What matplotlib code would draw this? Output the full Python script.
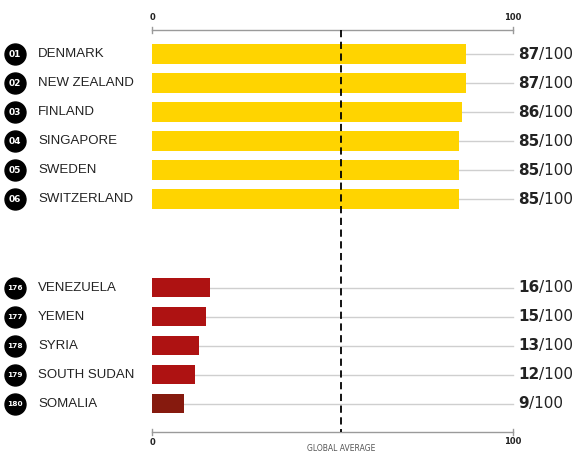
import matplotlib.pyplot as plt
from matplotlib.transforms import blended_transform_factory

top_names = ['DENMARK', 'NEW ZEALAND', 'FINLAND', 'SINGAPORE', 'SWEDEN', 'SWITZERLAND']
top_ranks = ['01', '02', '03', '04', '05', '06']
top_scores = [87, 87, 86, 85, 85, 85]

low_names = ['VENEZUELA', 'YEMEN', 'SYRIA', 'SOUTH SUDAN', 'SOMALIA']
low_ranks = ['176', '177', '178', '179', '180']
low_scores = [16, 15, 13, 12, 9]

global_avg = 52.4

YELLOW = '#FFD400'
RED = '#AE1212'
DARK_RED = '#861A0E'
NAME_FONT = ['Liberation Sans', 'DejaVu Sans']

fig = plt.figure(figsize=(5.77, 4.62), dpi=100)
ax = fig.add_axes([152 / 577, (462 - 432) / 462, 361 / 577, 402 / 462])
ax.set_xlim(0, 100)
ax.set_ylim(13.03, -0.83)
ax.axis('off')

names = top_names + low_names
ranks = top_ranks + low_ranks
scores = top_scores + low_scores
rows = list(range(len(top_names))) + [8.05 + i for i in range(len(low_names))]
colors = [YELLOW] * len(top_names) + [RED] * (len(low_names) - 1) + [DARK_RED]

# guide lines out to 100
for y, s in zip(rows, scores):
    ax.plot([s, 100], [y, y], color='#cfcfcf', lw=1, zorder=1, clip_on=False)

ax.barh(rows, scores, height=0.68, color=colors, zorder=2)

# axis lines top and bottom
for yl in (-0.83, 13.03):
    ax.plot([0, 100], [yl, yl], color='#9a9a9a', lw=1, clip_on=False, zorder=1)
    for xt in (0, 100):
        ax.plot([xt, xt], [yl - 0.1, yl + 0.1], color='#9a9a9a', lw=1, clip_on=False)

ax.plot([global_avg, global_avg], [-0.83, 13.03], color='black', lw=1.3,
        ls=(0, (4, 2.5)), clip_on=False, zorder=3)

ax.text(0, -1.25, '0', ha='center', va='center', fontsize=6, fontweight='bold', color='#222')
ax.text(100, -1.25, '100', ha='center', va='center', fontsize=6, fontweight='bold', color='#222')
ax.text(0, 13.4, '0', ha='center', va='center', fontsize=6, fontweight='bold', color='#222')
ax.text(100, 13.35, '100', ha='center', va='center', fontsize=6, fontweight='bold', color='#222')
ax.text(global_avg, 13.6, 'GLOBAL AVERAGE', ha='center', va='center', fontsize=5.5, color='#555')

blend = blended_transform_factory(fig.transFigure, ax.transData)
for y, name, rank, s in zip(rows, names, ranks, scores):
    ax.scatter([15 / 577], [y], s=228, color='black', transform=blend, clip_on=False, zorder=4)
    ax.text(15 / 577, y, rank, transform=blend, ha='center', va='center',
            fontsize=6.5 if len(rank) == 2 else 5.3, fontweight='bold', color='white', zorder=5)
    ax.text(38 / 577, y, name, transform=blend, ha='left', va='center',
            fontsize=9.5, family=NAME_FONT, color='#222')
    t = ax.text(518 / 577, y, str(s), transform=blend, ha='left', va='center',
                fontsize=11, fontweight='bold', color='#222')
    ax.annotate('/100', xycoords=t, xy=(1, 0.5), va='center', ha='left',
                fontsize=11, color='#222')

fig.savefig('out.png', dpi=100)
